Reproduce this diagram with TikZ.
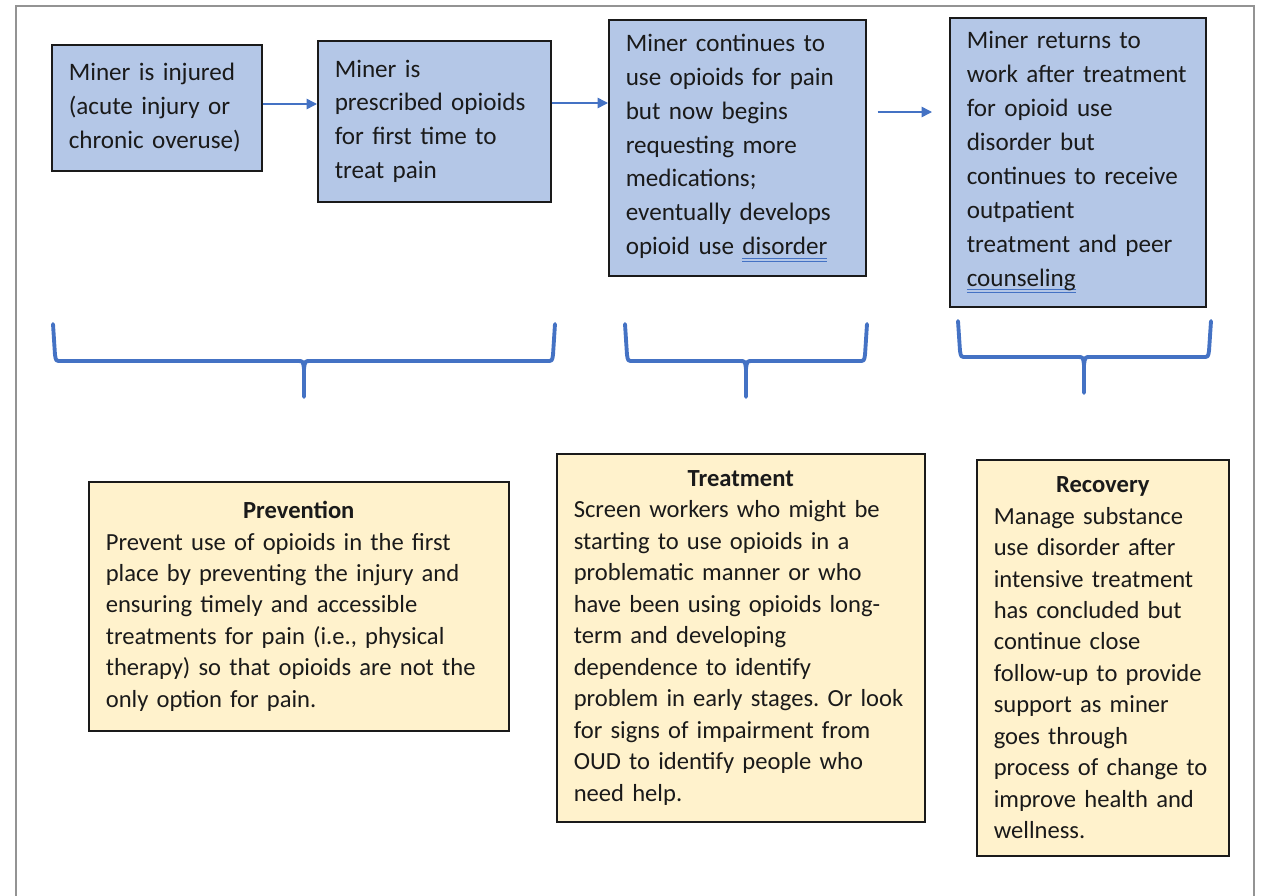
\documentclass[tikz,border=0pt]{standalone}
\usepackage{fontspec}
\setmainfont{Carlito}
\usetikzlibrary{arrows.meta}

\definecolor{eventblue}{HTML}{B4C7E7}
\definecolor{stageyellow}{HTML}{FFF2CC}
\definecolor{linkblue}{HTML}{4472C4}
\definecolor{inkgray}{HTML}{1A1A1A}

% double underline (as in the source document)
\newcommand{\dblul}[1]{\leavevmode\setbox0\hbox{#1}%
  \rlap{\color{linkblue}\rule[-2.4pt]{\wd0}{0.6pt}}%
  \rlap{\color{linkblue}\rule[-3.9pt]{\wd0}{0.6pt}}\box0}

% centred title line
\newcommand{\stagetitle}[1]{\makebox[\linewidth][c]{\textbf{#1}}}

% brace: x left, x right, x tip, y top, y mid, y tip
\newcommand{\stagebrace}[6]{%
  \draw[stage brace] (#1,#4) -- (#1+2,#5-6) .. controls (#1+3,#5) .. (#1+8,#5)
    -- (#3-6,#5) .. controls (#3-1,#5) .. (#3,#5+8) -- (#3,#6)
    -- (#3,#5+8) .. controls (#3+1,#5) .. (#3+6,#5)
    -- (#2-8,#5) .. controls (#2-3,#5) .. (#2-2,#5-6) -- (#2,#4);}

\begin{document}
\frenchspacing
\begin{tikzpicture}[
    x=0.02cm, y=-0.02cm,
    event box/.style={
        rectangle,
        anchor=north west,
        draw=inkgray,
        fill=eventblue,
        line width=0.9pt,
        text=inkgray,
        align=left,
        inner xsep=0.34cm,
        inner ysep=0.1cm,
        font=\fontsize{14.3}{19.3}\selectfont
    },
    stage box/.style={
        event box,
        fill=stageyellow,
        font=\fontsize{14}{17.9}\selectfont
    },
    flow arrow/.style={
        -{Triangle[length=0.21cm,width=0.21cm]},
        linkblue,
        line width=0.85pt
    },
    stage brace/.style={
        linkblue,
        line width=2.2pt,
        line cap=round,
        line join=round
    }
]

\useasboundingbox (0,0) rectangle (1268,896);

%% --- Cadre ---
\draw[gray!85, line width=0.8pt] (16,900) -- (16,6) -- (1254,6) -- (1254,900);

%% --- Parcours du mineur ---
\node[event box, minimum width=4.2cm, minimum height=2.52cm, text width=3.52cm]
    (injured) at (51,44) {Miner is injured\\(acute injury or\\chronic overuse)};
\node[event box, minimum width=4.66cm, minimum height=3.22cm, text width=3.98cm]
    (prescribed) at (317,40) {Miner is\\prescribed opioids\\for first time to\\treat pain};
\node[event box, minimum width=5.14cm, minimum height=5.12cm, text width=4.46cm]
    (continues) at (608,19) {Miner continues to\\use opioids for pain\\but now begins\\requesting more\\medications;\\eventually develops\\opioid use \dblul{disorder}};
\node[event box, minimum width=5.12cm, minimum height=5.78cm, text width=4.44cm]
    (returns) at (949,17) {Miner returns to\\work after treatment\\for opioid use\\disorder but\\continues to receive\\outpatient\\treatment and peer\\\dblul{counseling}};

%% --- Fleches ---
\coordinate (flow1) at (0,104);
\coordinate (flow2) at (0,103);
\coordinate (flow3) at (0,112);
\draw[flow arrow] (injured.east |- flow1) -- (prescribed.west |- flow1);
\draw[flow arrow] (prescribed.east |- flow2) -- (continues.west |- flow2);
\draw[flow arrow, shorten <=0.22cm, shorten >=0.34cm] (continues.east |- flow3) -- (returns.west |- flow3);

%% --- Accolades ---
\stagebrace{53}{555}{304}{324}{361}{397}
\stagebrace{625}{867}{746}{324}{361}{397}
\stagebrace{958}{1211}{1084}{321}{357}{393}

%% --- Etapes ---
\node[stage box, minimum width=8.4cm, minimum height=4.98cm, text width=7.72cm]
    (prevention) at (88,481) {\stagetitle{Prevention}\\Prevent use of opioids in the first\\place by preventing the injury and\\ensuring timely and accessible\\treatments for pain (i.e., physical\\therapy) so that opioids are not the\\only option for pain.};
\node[stage box, minimum width=7.36cm, minimum height=7.36cm, text width=6.68cm]
    (treatment) at (556,453) {\stagetitle{Treatment}\\Screen workers who might be\\starting to use opioids in a\\problematic manner or who\\have been using opioids long-\\term and developing\\dependence to identify\\problem in early stages. Or look\\for signs of impairment from\\OUD to identify people who\\need help.};
\node[stage box, minimum width=5.04cm, minimum height=7.92cm, text width=4.36cm]
    (recovery) at (976,459) {\stagetitle{Recovery}\\Manage substance\\use disorder after\\intensive treatment\\has concluded but\\continue close\\follow-up to provide\\support as miner\\goes through\\process of change to\\improve health and\\wellness.};

\end{tikzpicture}
\end{document}
